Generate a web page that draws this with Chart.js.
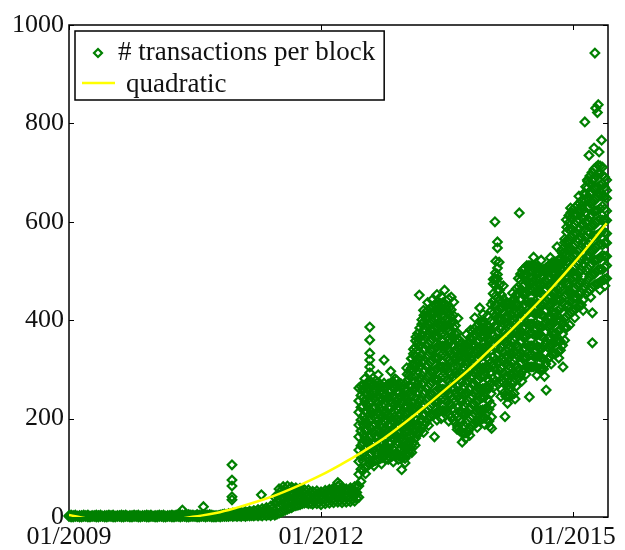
<!DOCTYPE html>
<html>
<head>
<meta charset="utf-8">
<script src="https://cdn.jsdelivr.net/npm/chart.js@4.4.0/dist/chart.umd.min.js"></script>
<style>
  body { margin: 0; background: #fff; }
  #wrap { width: 625px; height: 550px; }
</style>
</head>
<body>
<div id="wrap"><canvas id="txChart" width="625" height="550"></canvas></div>
<script>
  // Sampled columns of the scatter cloud (decimal years)
  const sampleYears = [
    2009.00, 2009.05, 2009.10, 2009.15, 2009.20, 2009.25, 2009.30, 2009.35, 2009.40, 2009.45,
    2009.50, 2009.55, 2009.60, 2009.65, 2009.70, 2009.75, 2009.80, 2009.85, 2009.90, 2009.95,
    2010.00, 2010.05, 2010.10, 2010.15, 2010.20, 2010.25, 2010.30, 2010.35, 2010.40, 2010.45,
    2010.50, 2010.55, 2010.60, 2010.65, 2010.70, 2010.75, 2010.80, 2010.85, 2010.90, 2010.95,
    2011.00, 2011.05, 2011.10, 2011.15, 2011.20, 2011.25, 2011.30, 2011.35, 2011.40, 2011.45,
    2011.50, 2011.55, 2011.60, 2011.65, 2011.70, 2011.75, 2011.80, 2011.85, 2011.90, 2011.95,
    2012.00, 2012.05, 2012.10, 2012.15, 2012.20, 2012.25, 2012.30, 2012.35, 2012.40, 2012.45,
    2012.50, 2012.55, 2012.60, 2012.65, 2012.70, 2012.75, 2012.80, 2012.85, 2012.90, 2012.95,
    2013.00, 2013.05, 2013.10, 2013.15, 2013.20, 2013.25, 2013.30, 2013.35, 2013.40, 2013.45,
    2013.50, 2013.55, 2013.60, 2013.65, 2013.70, 2013.75, 2013.80, 2013.85, 2013.90, 2013.95,
    2014.00, 2014.05, 2014.10, 2014.15, 2014.20, 2014.25, 2014.30, 2014.35, 2014.40, 2014.45,
    2014.50, 2014.55, 2014.60, 2014.65, 2014.70, 2014.75, 2014.80, 2014.85, 2014.90, 2014.95,
    2015.00, 2015.05, 2015.10, 2015.15, 2015.20, 2015.25, 2015.30, 2015.35, 2015.40
  ];

  // # transactions per block seen in each column
  const txPerBlock = [
    [1, 3], [0, 3], [1, 2], [0, 3], [1, 3], [0, 2], [1, 3], [0, 3], [1, 2], [0, 3],
    [1, 3], [0, 2], [1, 3], [0, 3], [1, 2], [0, 3], [1, 3], [0, 2], [1, 3], [0, 3],
    [1, 2], [0, 3], [1, 3], [0, 2], [1, 3], [0, 3], [1, 4], [1, 4, 14], [0, 3], [1, 4],
    [1, 3], [0, 4], [1, 5, 21], [1, 4], [0, 4], [0, 3], [0, 3, 4], [1, 4, 6], [1, 4, 7], [1, 5, 8],
    [1, 5, 9], [1, 6, 10], [1, 6, 11], [2, 7, 12], [2, 7, 13], [2, 8, 15], [2, 9, 17], [3, 10, 19], [3, 11, 22], [4, 14, 28, 40],
    [8, 21, 33, 45, 57], [12, 24, 38, 49, 62], [16, 27, 41, 52, 63], [19, 31, 43, 53, 61], [23, 34, 44, 53, 59], [25, 36, 44, 54, 58], [28, 37, 48, 56], [27, 37, 45, 55], [26, 34, 44, 52], [27, 36, 46, 53],
    [25, 35, 43, 51], [27, 36, 46, 54], [28, 38, 47, 56], [29, 39, 50, 59], [30, 42, 52, 63, 70], [29, 38, 49, 60], [30, 40, 48, 57], [31, 41, 50, 59], [32, 43, 52, 62], [40, 63, 87, 113, 136, 163, 187, 213, 236, 262],
    [95, 114, 129, 151, 168, 188, 205, 225, 242, 259, 268],
    [104, 119, 141, 154, 178, 190, 214, 227, 249, 261, 273],
    [110, 130, 142, 165, 179, 200, 213, 235, 248, 266, 274],
    [115, 131, 151, 164, 188, 200, 223, 236, 256, 267, 277],
    [118, 137, 152, 172, 187, 208, 222, 243, 255, 271],
    [122, 137, 159, 174, 194, 209, 230, 244, 263, 272],
    [117, 138, 151, 174, 188, 209, 223, 244, 256, 270],
    [124, 139, 162, 175, 197, 211, 233, 246, 264, 275],
    [126, 148, 161, 183, 197, 220, 233, 254, 265, 278],
    [123, 139, 160, 174, 197, 210, 232, 245, 262, 271],
    [119, 140, 154, 175, 189, 211, 224, 246, 257, 270],
    [136, 152, 174, 191, 213, 230, 253, 268, 288, 297],
    [151, 174, 190, 215, 232, 257, 274, 298, 312, 332, 341],
    [167, 186, 211, 229, 254, 272, 297, 315, 339, 354, 373],
    [181, 199, 226, 244, 270, 288, 314, 331, 356, 371, 392, 401],
    [192, 217, 236, 262, 280, 307, 324, 350, 366, 389, 402, 417],
    [205, 224, 250, 269, 295, 313, 339, 356, 380, 394, 414, 423],
    [209, 234, 253, 279, 297, 323, 341, 366, 382, 404, 416, 431],
    [215, 234, 261, 279, 305, 323, 349, 366, 390, 404, 423, 432],
    [217, 242, 260, 287, 305, 331, 348, 373, 389, 411, 421, 435],
    [214, 233, 260, 278, 304, 322, 348, 365, 389, 403, 421, 429],
    [203, 228, 246, 272, 290, 316, 333, 358, 374, 396, 406, 421],
    [191, 209, 235, 253, 278, 295, 320, 336, 359, 372, 389],
    [175, 198, 214, 239, 255, 279, 295, 318, 331, 350, 359],
    [170, 186, 210, 226, 250, 266, 289, 304, 325, 335, 348],
    [173, 196, 212, 236, 252, 276, 291, 314, 327, 345, 353],
    [187, 205, 229, 246, 270, 287, 311, 327, 349, 361, 377],
    [192, 216, 233, 258, 275, 300, 317, 341, 356, 377, 387],
    [199, 217, 242, 260, 285, 302, 327, 343, 366, 379, 395],
    [201, 219, 244, 262, 287, 304, 329, 345, 368, 380, 394],
    [195, 219, 236, 261, 278, 303, 320, 344, 358, 378, 387],
    [263, 282, 308, 326, 352, 370, 396, 414, 439, 454, 474, 483],
    [289, 314, 332, 358, 376, 402, 420, 446, 462, 484, 493, 506],
    [259, 277, 302, 319, 344, 361, 386, 402, 424, 436, 451],
    [245, 269, 286, 311, 328, 353, 370, 394, 408, 427, 435],
    [246, 264, 289, 306, 331, 348, 373, 389, 411, 422, 435],
    [251, 275, 292, 317, 334, 359, 376, 400, 414, 434, 443],
    [281, 300, 326, 344, 370, 388, 414, 431, 454, 468, 485],
    [297, 322, 340, 366, 384, 410, 428, 453, 469, 491, 502],
    [305, 324, 350, 368, 394, 412, 438, 455, 479, 493, 511],
    [305, 330, 348, 374, 392, 418, 436, 461, 477, 499, 511],
    [306, 325, 351, 369, 395, 413, 439, 456, 480, 494, 511],
    [301, 326, 344, 370, 388, 414, 432, 457, 473, 495, 505],
    [301, 320, 346, 364, 390, 408, 434, 451, 475, 488, 503],
    [321, 345, 362, 387, 404, 429, 446, 470, 484, 502, 509],
    [331, 349, 374, 391, 416, 433, 458, 474, 496, 506, 517],
    [333, 357, 374, 399, 416, 441, 458, 482, 495, 512, 519],
    [339, 357, 382, 399, 424, 441, 466, 482, 503, 512, 525],
    [359, 385, 404, 431, 450, 477, 496, 522, 538, 558, 565],
    [411, 430, 456, 474, 500, 518, 544, 561, 585, 598, 613],
    [419, 444, 462, 488, 506, 532, 550, 575, 591, 614, 625],
    [426, 445, 471, 489, 515, 533, 559, 576, 600, 615, 633],
    [431, 457, 476, 503, 522, 549, 568, 594, 610, 632, 643],
    [453, 474, 502, 522, 550, 570, 598, 617, 642, 656, 671],
    [461, 489, 510, 539, 560, 589, 610, 638, 656, 680, 693],
    [471, 493, 522, 543, 572, 593, 622, 642, 668, 686, 707],
    [475, 503, 524, 553, 574, 603, 624, 652, 671, 698, 715],
    [481, 503, 532, 553, 582, 603, 632, 652, 678, 694, 711],
    [485, 511, 530, 557, 576, 603, 622, 648, 664, 685]
  ];

  // Second pass of columns, half a step later, to fill in the cloud
  const sampleYearsB = [
    2009.025, 2009.075, 2009.125, 2009.175, 2009.225, 2009.275, 2009.325, 2009.375, 2009.425, 2009.475,
    2009.525, 2009.575, 2009.625, 2009.675, 2009.725, 2009.775, 2009.825, 2009.875, 2009.925, 2009.975,
    2010.025, 2010.075, 2010.125, 2010.175, 2010.225, 2010.275, 2010.325, 2010.375, 2010.425, 2010.475,
    2010.525, 2010.575, 2010.625, 2010.675, 2010.725, 2010.775, 2010.825, 2010.875, 2010.925, 2010.975,
    2011.025, 2011.075, 2011.125, 2011.175, 2011.225, 2011.275, 2011.325, 2011.375, 2011.425, 2011.475,
    2011.525, 2011.575, 2011.625, 2011.675, 2011.725, 2011.775, 2011.825, 2011.875, 2011.925, 2011.975,
    2012.025, 2012.075, 2012.125, 2012.175, 2012.225, 2012.275, 2012.325, 2012.375, 2012.425, 2012.475,
    2012.525, 2012.575, 2012.625, 2012.675, 2012.725, 2012.775, 2012.825, 2012.875, 2012.925, 2012.975,
    2013.025, 2013.075, 2013.125, 2013.175, 2013.225, 2013.275, 2013.325, 2013.375, 2013.425, 2013.475,
    2013.525, 2013.575, 2013.625, 2013.675, 2013.725, 2013.775, 2013.825, 2013.875, 2013.925, 2013.975,
    2014.025, 2014.075, 2014.125, 2014.175, 2014.225, 2014.275, 2014.325, 2014.375, 2014.425, 2014.475,
    2014.525, 2014.575, 2014.625, 2014.675, 2014.725, 2014.775, 2014.825, 2014.875, 2014.925, 2014.975,
    2015.025, 2015.075, 2015.125, 2015.175, 2015.225, 2015.275, 2015.325, 2015.375
  ];
  const txPerBlockB = [
    [0, 4], [1, 4], [0, 3], [1, 4], [0, 4], [1, 3], [0, 4], [1, 4], [0, 3], [1, 4],
    [0, 4], [1, 3], [0, 4], [1, 4], [0, 3], [1, 4], [0, 4], [1, 3], [0, 4], [1, 4],
    [0, 3], [1, 4], [0, 4], [1, 3], [0, 4], [1, 4], [0, 5], [1, 4], [0, 5], [1, 4],
    [0, 5], [1, 4], [0, 5], [1, 5], [0, 3], [1, 3], [1, 5], [1, 5], [2, 6], [2, 7],
    [2, 8], [3, 8], [3, 9], [3, 10], [4, 11], [4, 12], [5, 14], [5, 15], [6, 18], [6, 18, 31, 44],
    [10, 27, 41, 54], [14, 30, 46, 57], [18, 34, 47, 58], [22, 37, 49, 57], [24, 39, 50, 56], [27, 41, 52], [29, 42, 51], [28, 40, 50], [30, 41, 49], [29, 39, 48],
    [30, 40, 49], [31, 42, 52], [33, 44, 54], [34, 46, 57], [33, 45, 56, 66], [33, 43, 53], [34, 44, 54], [36, 47, 56], [38, 50, 60], [72, 97, 123, 145, 175, 197, 223, 247, 266],
    [100, 123, 139, 161, 177, 198, 215, 235, 251, 265],
    [107, 125, 146, 161, 183, 197, 219, 233, 255, 269],
    [113, 137, 148, 171, 184, 205, 220, 242, 253, 270],
    [116, 129, 144, 163, 179, 197, 214, 231, 248, 263, 274],
    [120, 129, 147, 165, 181, 201, 215, 237, 249, 266],
    [119, 129, 145, 163, 180, 199, 215, 236, 250, 265],
    [121, 132, 149, 167, 184, 203, 220, 238, 254, 269],
    [125, 135, 157, 169, 191, 204, 226, 240, 260, 271],
    [124, 135, 151, 169, 186, 204, 224, 239, 255, 269],
    [121, 132, 148, 167, 181, 201, 217, 239, 250, 266],
    [128, 147, 163, 185, 199, 223, 239, 259, 277, 290],
    [144, 163, 182, 204, 223, 245, 265, 285, 303, 322],
    [160, 179, 199, 221, 242, 263, 285, 306, 325, 345, 358],
    [174, 194, 217, 238, 261, 281, 305, 323, 347, 364, 384],
    [187, 208, 229, 251, 273, 295, 317, 339, 359, 381, 397, 410],
    [199, 220, 242, 265, 287, 309, 330, 353, 373, 393, 408, 420],
    [207, 230, 250, 275, 295, 319, 339, 362, 380, 400, 414, 427],
    [212, 234, 256, 279, 300, 323, 344, 367, 385, 405, 419, 431],
    [216, 239, 260, 284, 305, 328, 348, 371, 389, 409, 421, 434],
    [215, 238, 259, 283, 304, 327, 348, 370, 388, 408, 420, 432],
    [208, 231, 252, 276, 296, 320, 340, 362, 380, 400, 412, 425],
    [197, 220, 240, 263, 283, 306, 326, 348, 365, 385, 397, 410],
    [183, 204, 223, 247, 265, 288, 306, 328, 344, 362, 374],
    [172, 193, 211, 234, 252, 274, 291, 312, 327, 343, 353],
    [171, 192, 210, 232, 250, 272, 289, 310, 325, 341, 350],
    [180, 201, 220, 242, 260, 283, 300, 321, 337, 354, 365],
    [190, 211, 230, 253, 271, 294, 313, 335, 351, 370, 382],
    [196, 217, 237, 260, 279, 302, 321, 343, 360, 379, 391],
    [200, 218, 243, 261, 286, 303, 328, 344, 367, 380, 394],
    [198, 221, 239, 263, 281, 305, 323, 346, 362, 380, 390],
    [228, 251, 271, 295, 315, 339, 359, 381, 399, 419, 432],
    [276, 299, 319, 343, 363, 387, 407, 431, 449, 471, 484, 496],
    [274, 297, 316, 340, 359, 383, 402, 425, 442, 461, 472],
    [252, 274, 293, 316, 335, 358, 377, 399, 415, 432, 443],
    [245, 267, 286, 309, 328, 351, 370, 392, 408, 425, 434],
    [248, 270, 289, 312, 331, 354, 373, 395, 411, 429, 439],
    [266, 289, 308, 332, 351, 375, 394, 417, 433, 452, 464],
    [289, 312, 332, 356, 376, 400, 420, 443, 461, 481, 494],
    [301, 324, 344, 368, 388, 412, 432, 455, 473, 493, 506],
    [305, 328, 348, 372, 392, 416, 436, 459, 477, 497, 511],
    [305, 328, 348, 372, 392, 416, 436, 460, 478, 498, 511],
    [303, 326, 346, 370, 390, 414, 434, 457, 475, 495, 508],
    [301, 324, 344, 368, 388, 412, 432, 455, 473, 492, 504],
    [311, 333, 353, 376, 396, 419, 439, 461, 478, 496, 506],
    [326, 348, 367, 390, 409, 432, 451, 473, 489, 505, 513],
    [332, 354, 373, 396, 415, 438, 457, 479, 495, 510, 518],
    [336, 358, 377, 400, 419, 442, 461, 483, 498, 513, 522],
    [349, 372, 392, 416, 436, 460, 480, 503, 519, 536, 545],
    [385, 408, 429, 453, 474, 498, 519, 542, 560, 579, 589],
    [415, 438, 458, 482, 502, 526, 546, 569, 587, 607, 619],
    [422, 445, 465, 489, 509, 533, 553, 577, 595, 615, 629],
    [428, 452, 473, 497, 518, 542, 563, 586, 604, 624, 638],
    [442, 467, 488, 513, 535, 560, 582, 606, 625, 645, 657],
    [457, 482, 505, 531, 554, 580, 603, 628, 648, 669, 682],
    [466, 492, 515, 542, 565, 592, 615, 641, 661, 685, 700],
    [473, 499, 522, 549, 572, 599, 622, 648, 669, 693, 711],
    [478, 504, 527, 555, 577, 605, 627, 653, 674, 698, 713],
    [483, 508, 530, 557, 578, 604, 626, 651, 670, 691]
  ];

  // Loose diamonds along the upper and lower rims of the cloud
  const edgeYears = [
    2012.52, 2012.68, 2012.83, 2012.88, 2013.02, 2013.08, 2013.13, 2013.22, 2013.27, 2013.38,
    2013.43, 2013.52, 2013.58, 2013.63, 2013.73, 2013.78, 2013.83, 2013.93, 2013.98, 2014.12,
    2014.17, 2014.28, 2014.42, 2014.53, 2014.62, 2014.73, 2014.86, 2014.97, 2015.07, 2015.17,
    2012.53, 2012.63, 2012.72, 2012.86, 2012.92, 2013.00, 2013.08, 2013.12, 2013.22, 2013.28,
    2013.38, 2013.43, 2013.52, 2013.62, 2013.72, 2013.77, 2013.86, 2013.95, 2014.01, 2014.14,
    2014.22, 2014.31, 2014.39, 2014.44, 2014.57, 2014.66, 2014.74, 2014.83, 2014.96, 2015.02,
    2015.12, 2015.21, 2015.32, 2015.38
  ];
  const edgeTx = [
    281, 289, 296, 281, 303, 322, 366, 420, 436, 452,
    448, 443, 437, 404, 371, 380, 405, 412, 409, 518,
    470, 455, 505, 528, 522, 527, 540, 628, 652, 685,
    88, 104, 108, 112, 117, 110, 131, 146, 172, 186,
    197, 200, 195, 178, 160, 166, 182, 188, 184, 245,
    231, 240, 276, 290, 288, 286, 311, 323, 390, 405,
    420, 447, 462, 470
  ];

  // Isolated diamonds away from the main cloud
  const outlierYears = [
    2010.94, 2010.94, 2010.94, 2010.94, 2010.94, 2011.29,
    2012.58, 2012.58, 2012.58, 2012.58, 2012.58, 2012.58,
    2012.75, 2012.96, 2013.05, 2013.15, 2013.17, 2013.32, 2013.35, 2013.47, 2013.55, 2013.68,
    2013.89, 2014.03, 2014.03, 2014.07, 2014.08, 2014.10, 2014.10, 2014.19, 2014.36, 2014.48,
    2014.68, 2014.81, 2014.88, 2014.92, 2015.14, 2015.19, 2015.23, 2015.23, 2015.25, 2015.26,
    2015.27, 2015.29, 2015.30, 2015.31, 2015.34
  ];
  const outlierTx = [
    35, 41, 63, 75, 106, 45,
    293, 305, 319, 333, 360, 386,
    319, 96, 130, 171, 451, 441, 163, 461, 447, 152,
    425, 180, 203, 600, 520, 547, 559, 204, 618, 244,
    258, 549, 305, 604, 803, 735, 415, 354, 750, 943,
    831, 822, 838, 742, 766
  ];

  // Quadratic trend
  const fitYears = [
    2009.00, 2009.25, 2009.50, 2009.75, 2010.00, 2010.25, 2010.50, 2010.75, 2011.00,
    2011.25, 2011.50, 2011.75, 2012.00, 2012.25, 2012.50, 2012.75, 2013.00, 2013.25,
    2013.50, 2013.75, 2014.00, 2014.25, 2014.50, 2014.75, 2015.00, 2015.25, 2015.40
  ];
  const fitTx = [
    4, -4, -8, -9.5, -8, -5, 1, 8, 19,
    32, 47, 65, 85, 108, 133, 160, 192, 226,
    262, 298, 338, 378, 421, 466, 514, 565, 597
  ];

  const xTickYears = [2009, 2012, 2015];
  const xTickLabels = ['01/2009', '01/2012', '01/2015'];
  const seriesLabels = ['# transactions per block', 'quadratic'];

  const green = '#008000';
  const yellow = '#ffff00';
  const serif = '"Liberation Serif", "Times New Roman", serif';

  const scatterPoints = [];
  sampleYears.forEach((yr, i) => {
    txPerBlock[i].forEach(v => scatterPoints.push({ x: yr, y: v }));
  });
  sampleYearsB.forEach((yr, i) => {
    txPerBlockB[i].forEach(v => scatterPoints.push({ x: yr, y: v }));
  });
  edgeYears.forEach((yr, i) => scatterPoints.push({ x: yr, y: edgeTx[i] }));
  outlierYears.forEach((yr, i) => scatterPoints.push({ x: yr, y: outlierTx[i] }));

  const fitPoints = fitYears.map((yr, i) => ({ x: yr, y: fitTx[i] }));

  function diamond(ctx, x, y, r) {
    ctx.beginPath();
    ctx.moveTo(x, y - r);
    ctx.lineTo(x + r, y);
    ctx.lineTo(x, y + r);
    ctx.lineTo(x - r, y);
    ctx.closePath();
    ctx.stroke();
  }

  // Box, inward tick marks on all four sides, legend on top
  const framePlugin = {
    id: 'frame',
    beforeDatasetsDraw(chart) {
      const { ctx, chartArea: a, scales } = chart;
      const len = 5;
      ctx.save();
      ctx.strokeStyle = '#000';
      ctx.lineWidth = 1.5;
      ctx.strokeRect(a.left, a.top, a.right - a.left, a.bottom - a.top);
      ctx.lineWidth = 1;
      ctx.beginPath();
      scales.y.ticks.forEach(t => {
        const y = Math.round(scales.y.getPixelForValue(t.value)) + 0.5;
        ctx.moveTo(a.left, y); ctx.lineTo(a.left + len, y);
        ctx.moveTo(a.right, y); ctx.lineTo(a.right - len, y);
      });
      scales.x.ticks.forEach(t => {
        const x = Math.round(scales.x.getPixelForValue(t.value)) + 0.5;
        ctx.moveTo(x, a.bottom); ctx.lineTo(x, a.bottom - len);
        ctx.moveTo(x, a.top); ctx.lineTo(x, a.top + len);
      });
      ctx.stroke();
      ctx.restore();
    },
    afterDatasetsDraw(chart) {
      const { ctx, chartArea: a } = chart;
      ctx.save();
      ctx.font = '27px ' + serif;
      const textX = 118;
      const boxL = a.left + 6, boxT = a.top + 6;
      const boxR = textX + ctx.measureText(seriesLabels[0]).width + 9;
      const boxB = boxT + 69;
      ctx.fillStyle = '#fff';
      ctx.fillRect(boxL, boxT, boxR - boxL, boxB - boxT);
      ctx.strokeStyle = '#000';
      ctx.lineWidth = 1.5;
      ctx.strokeRect(boxL, boxT, boxR - boxL, boxB - boxT);

      ctx.strokeStyle = green;
      ctx.lineWidth = 2.2;
      diamond(ctx, 98, boxT + 22, 4);

      ctx.strokeStyle = yellow;
      ctx.lineWidth = 2.5;
      ctx.beginPath();
      ctx.moveTo(82, boxT + 52);
      ctx.lineTo(115, boxT + 52);
      ctx.stroke();

      ctx.fillStyle = '#111';
      ctx.textBaseline = 'alphabetic';
      ctx.fillText(seriesLabels[0], textX, boxT + 29);
      ctx.fillText(seriesLabels[1], textX + 8, boxT + 61);
      ctx.restore();
    }
  };

  const ctx = document.getElementById('txChart').getContext('2d');
  const txChart = new Chart(ctx, {
    type: 'scatter',
    data: {
      datasets: [
        {
          label: seriesLabels[1],
          data: fitPoints,
          showLine: true,
          borderColor: yellow,
          borderWidth: 2.5,
          pointRadius: 0,
          tension: 0.4,
          order: 0
        },
        {
          label: seriesLabels[0],
          data: scatterPoints,
          pointStyle: 'rectRot',
          pointRadius: 4.3,
          pointBorderWidth: 2.2,
          borderColor: green,
          backgroundColor: 'rgba(0,0,0,0)',
          clip: false,
          order: 1
        }
      ]
    },
    options: {
      responsive: false,
      devicePixelRatio: 1,
      animation: false,
      events: [],
      layout: { padding: { top: 25, right: 17, left: 0, bottom: 0 } },
      scales: {
        x: {
          type: 'linear',
          min: 2009,
          max: 2015.416,
          grid: { display: false, drawTicks: false },
          border: { display: false },
          afterBuildTicks: s => { s.ticks = xTickYears.map(v => ({ value: v })); },
          afterFit: s => { s.height = 33; },
          ticks: {
            autoSkip: false,
            maxRotation: 0,
            padding: 5,
            color: '#111',
            font: { family: serif, size: 26 },
            callback: v => xTickLabels[xTickYears.indexOf(v)]
          }
        },
        y: {
          min: 0,
          max: 1000,
          grid: { display: false, drawTicks: false },
          border: { display: false },
          afterFit: s => { s.width = 69; },
          ticks: {
            stepSize: 200,
            padding: 5,
            color: '#111',
            font: { family: serif, size: 26 },
            callback: v => String(v)
          }
        }
      },
      plugins: {
        legend: { display: false },
        tooltip: { enabled: false }
      }
    },
    plugins: [framePlugin]
  });
</script>
</body>
</html>
